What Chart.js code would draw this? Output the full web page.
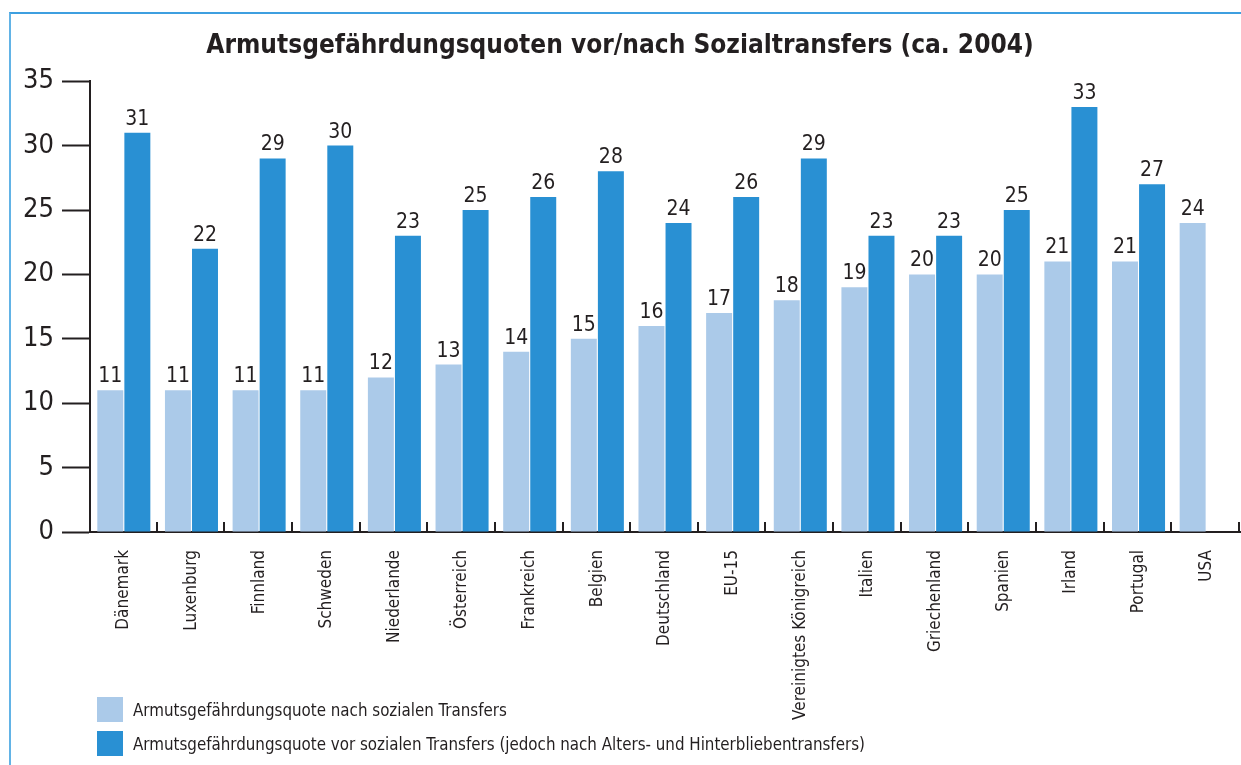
<!DOCTYPE html>
<html>
<head>
    <title>Armutsgefährdungsquoten</title>
    <script src="https://cdn.jsdelivr.net/npm/chart.js"></script>
    <style>
        body { margin: 0; background: #fff; }
        .frame {
            position: absolute; left: 9px; top: 12px; width: 1232px; height: 753px;
            border-top: 2px solid #3d9fe0; border-left: 2px solid #62b3e6;
            pointer-events: none;
        }
        .chart-box { position: absolute; left: 0; top: 0; width: 1241px; height: 765px; }
        .legend {
            position: absolute; left: 97px; top: 697px;
            font-family: "Liberation Sans Narrow", "DejaVu Sans Condensed", sans-serif;
            font-size: 16.8px; color: #231f20;
        }
        .legend-item { display: flex; align-items: center; height: 25px; margin-bottom: 9px; }
        .legend-item span.box { width: 26px; height: 25px; margin-right: 10px; }
    </style>
</head>
<body>
    <div class="chart-box">
        <canvas id="povertyChart" width="1241" height="765"></canvas>
    </div>
    <div class="frame"></div>
    <div class="legend" id="legend"></div>

    <script>
        const countries = ['Dänemark', 'Luxenburg', 'Finnland', 'Schweden', 'Niederlande', 'Österreich',
            'Frankreich', 'Belgien', 'Deutschland', 'EU-15', 'Vereinigtes Königreich', 'Italien',
            'Griechenland', 'Spanien', 'Irland', 'Portugal', 'USA'];
        // nach sozialen Transfers
        const afterTransfers = [11, 11, 11, 11, 12, 13, 14, 15, 16, 17, 18, 19, 20, 20, 21, 21, 24];
        // vor sozialen Transfers (USA ohne Wert)
        const beforeTransfers = [31, 22, 29, 30, 23, 25, 26, 28, 24, 26, 29, 23, 23, 25, 33, 27, null];
        const yTicks = [0, 5, 10, 15, 20, 25, 30, 35];

        const labelAfter = 'Armutsgefährdungsquote nach sozialen Transfers';
        const labelBefore = 'Armutsgefährdungsquote vor sozialen Transfers (jedoch nach Alters- und Hinterbliebentransfers)';
        const lightBlue = '#abcae9';
        const darkBlue = '#2990d3';
        const ink = '#231f20';
        const narrow = '"Liberation Sans Narrow", "DejaVu Sans Condensed", sans-serif';

        // Werte über den Balken
        const valueLabels = {
            id: 'valueLabels',
            afterDatasetsDraw(chart) {
                const ctx = chart.ctx;
                ctx.save();
                ctx.font = '21px ' + narrow;
                ctx.fillStyle = ink;
                ctx.textAlign = 'center';
                ctx.textBaseline = 'bottom';
                chart.data.datasets.forEach((ds, i) => {
                    chart.getDatasetMeta(i).data.forEach((bar, j) => {
                        if (ds.data[j] == null) return;
                        ctx.fillText(ds.data[j], bar.x, bar.y - 3);
                    });
                });
                ctx.restore();
            }
        };

        // kleine Striche zwischen den Kategorien, nach oben
        const categoryTicks = {
            id: 'categoryTicks',
            afterDraw(chart) {
                const x = chart.scales.x;
                const ctx = chart.ctx;
                const step = (x.right - x.left) / countries.length;
                ctx.save();
                ctx.strokeStyle = ink;
                ctx.lineWidth = 2;
                for (let i = 1; i <= countries.length; i++) {
                    const px = Math.round(x.left + step * i) - 1;
                    ctx.beginPath();
                    ctx.moveTo(px, x.top);
                    ctx.lineTo(px, x.top - 10);
                    ctx.stroke();
                }
                ctx.restore();
            }
        };

        const ctx = document.getElementById('povertyChart');
        const chart = new Chart(ctx, {
            type: 'bar',
            data: {
                labels: countries,
                datasets: [
                    { label: labelAfter, data: afterTransfers, backgroundColor: lightBlue },
                    { label: labelBefore, data: beforeTransfers, backgroundColor: darkBlue }
                ]
            },
            options: {
                responsive: false,
                animation: false,
                layout: { padding: { left: 0, right: 1, top: 0, bottom: 0 } },
                datasets: { bar: { categoryPercentage: 0.8, barPercentage: 0.96 } },
                plugins: {
                    legend: { display: false },
                    tooltip: { enabled: false },
                    title: {
                        display: true,
                        text: 'Armutsgefährdungsquoten vor/nach Sozialtransfers (ca. 2004)',
                        color: ink,
                        font: { family: narrow, size: 26, weight: 'bold' },
                        padding: { top: 31, bottom: 19 }
                    }
                },
                scales: {
                    x: {
                        afterFit: function(scale) { scale.height = 233; },
                        border: { color: ink, width: 2 },
                        grid: { display: false },
                        ticks: {
                            color: ink,
                            font: { family: narrow, size: 17 },
                            minRotation: 90,
                            maxRotation: 90,
                            autoSkip: false,
                            padding: 10
                        }
                    },
                    y: {
                        min: 0,
                        max: 35,
                        afterFit: function(scale) { scale.width = 90; },
                        afterBuildTicks: function(scale) { scale.ticks = yTicks.map(v => ({ value: v })); },
                        border: { color: ink, width: 2 },
                        grid: { drawOnChartArea: false, tickLength: 28, tickColor: ink, tickWidth: 2 },
                        ticks: {
                            color: ink,
                            font: { family: narrow, size: 27 },
                            padding: 8
                        }
                    }
                }
            },
            plugins: [valueLabels, categoryTicks]
        });

        // Legende unten links
        const legend = document.getElementById('legend');
        chart.data.datasets.forEach(ds => {
            const item = document.createElement('div');
            item.className = 'legend-item';
            const box = document.createElement('span');
            box.className = 'box';
            box.style.background = ds.backgroundColor;
            const txt = document.createElement('span');
            txt.textContent = ds.label;
            item.appendChild(box);
            item.appendChild(txt);
            legend.appendChild(item);
        });
    </script>
</body>
</html>
